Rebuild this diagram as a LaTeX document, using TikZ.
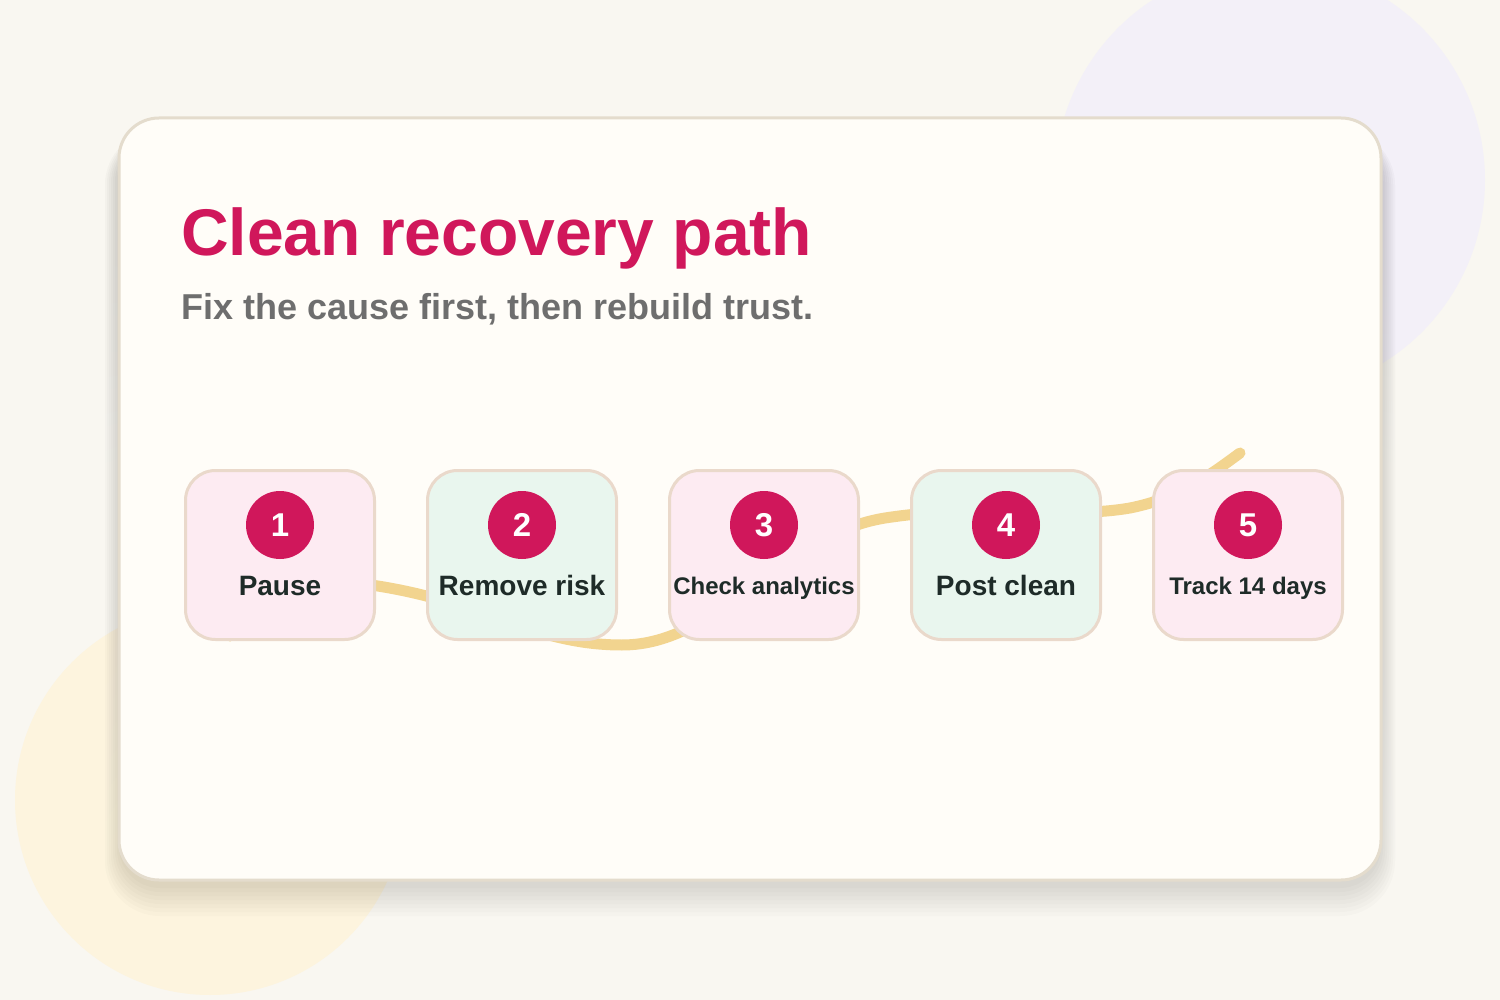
\documentclass[tikz,border=0pt]{standalone}
\usepackage{fontspec}
\setmainfont{Liberation Sans}
\definecolor{bgc}{HTML}{F9F7F1}
\definecolor{cardfill}{HTML}{FFFDF8}
\definecolor{cardline}{HTML}{E4DCCD}
\definecolor{lav}{HTML}{F3F0F8}
\definecolor{sun}{HTML}{FDF4DE}
\definecolor{pinkfill}{HTML}{FDEBF2}
\definecolor{greenfill}{HTML}{E9F6EE}
\definecolor{boxline}{HTML}{EAD9CB}
\definecolor{accent}{HTML}{D0175B}
\definecolor{subgray}{HTML}{6E6E6E}
\definecolor{labdark}{HTML}{1E2B28}
\definecolor{wave}{HTML}{F2D48F}
\definecolor{shade}{HTML}{9A8650}
\tikzset{
  stepbox/.style={draw=boxline, line width=3pt, rounded corners=30pt, minimum width=189pt, minimum height=169pt, inner sep=0pt},
  numdot/.style={circle, fill=accent, minimum size=68pt, inner sep=0pt, text=white, font=\bfseries\fontsize{33}{33}\selectfont},
  biglab/.style={anchor=base, text=labdark, font=\bfseries\fontsize{28}{30}\selectfont, inner sep=0pt},
  smalllab/.style={anchor=base, text=labdark, font=\bfseries\fontsize{24}{26}\selectfont, inner sep=0pt},
}
\begin{document}
\begin{tikzpicture}[x=1pt,y=-1pt]
\useasboundingbox (0,0) rectangle (1500,1000);
\fill[bgc] (0,0) rectangle (1500,1000);
\clip (0,0) rectangle (1500,1000);
% background blobs
\fill[lav] (1270,180) circle (215);
\fill[sun] (210,800) circle (195);
% soft card shadow
\foreach \s in {2,6,...,30}{
  \fill[shade, opacity=0.014, rounded corners={40+\s/2}]
    ({120-\s/2},{140-\s/3}) rectangle ({1380+\s/2},{886+\s});
}
% card
\node[draw=cardline, line width=3pt, fill=cardfill, rounded corners=40pt,
      minimum width=1262pt, minimum height=762pt, inner sep=0pt]
      (card) at (750,499) {};
% titles
\node[anchor=base west, inner sep=0pt, text=accent, font=\bfseries\fontsize{66}{70}\selectfont] (title) at (181,256) {Clean recovery path};
\node[anchor=base west, inner sep=0pt, text=subgray, font=\bfseries\fontsize{36}{40}\selectfont] (subtitle) at (181,320) {Fix the cause first, then rebuild trust.};
% wave path behind the boxes
\coordinate (w0) at (230,636);
\coordinate (w1) at (400,590);
\coordinate (w2) at (622,645);
\coordinate (w3) at (885,518);
\coordinate (w4) at (1130,508);
\coordinate (w5) at (1240,453);
\draw[wave, line width=11pt, line cap=round]
  (w0) .. controls (290,575) and (340,578) .. (w1)
       .. controls (490,608) and (540,645) .. (w2)
       .. controls (720,645) and (780,535) .. (w3)
       .. controls (990,502) and (1060,520) .. (w4)
       .. controls (1180,498) and (1210,475) .. (w5);
% steps
\node[stepbox, fill=pinkfill]  (box1) at (280,555) {};
\node[stepbox, fill=greenfill] (box2) at (522,555) {};
\node[stepbox, fill=pinkfill]  (box3) at (764,555) {};
\node[stepbox, fill=greenfill] (box4) at (1006,555) {};
\node[stepbox, fill=pinkfill]  (box5) at (1248,555) {};
\node[numdot] (num1) at (280,525) {1};
\node[numdot] (num2) at (522,525) {2};
\node[numdot] (num3) at (764,525) {3};
\node[numdot] (num4) at (1006,525) {4};
\node[numdot] (num5) at (1248,525) {5};
\node[biglab]   (lab1) at (280,595) {Pause};
\node[biglab]   (lab2) at (522,595) {Remove risk};
\node[smalllab] (lab3) at (764,594) {Check analytics};
\node[biglab]   (lab4) at (1006,595) {Post clean};
\node[smalllab] (lab5) at (1248,594) {Track 14 days};
\end{tikzpicture}
\end{document}
